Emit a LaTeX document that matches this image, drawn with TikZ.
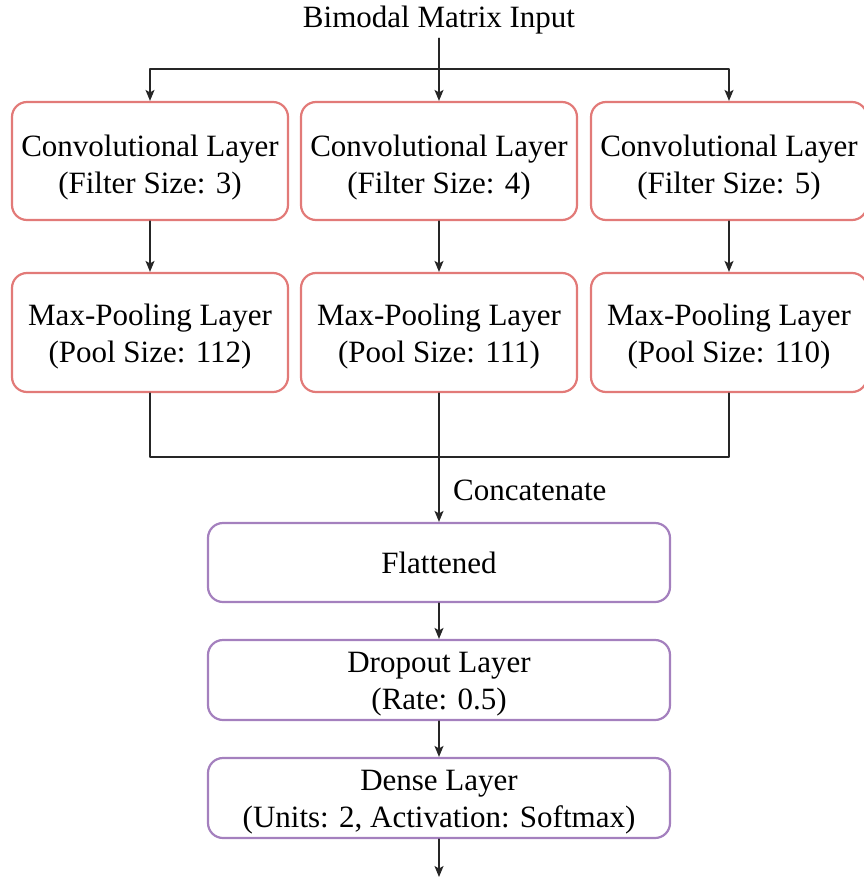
\documentclass[tikz,border=0pt]{standalone}
\usepackage{fontspec}
\setmainfont{Liberation Serif}
\usetikzlibrary{arrows.meta}
\definecolor{convred}{RGB}{226,122,120}
\definecolor{densepurple}{RGB}{164,128,190}
\newcommand{\toppad}[1]{\rule{0pt}{#1}}
\begin{document}
\begin{tikzpicture}[line cap=round,line join=round,>={Stealth[length=11pt,width=9pt,inset=2.5pt]},x=1pt,y=-1pt,
  every node/.style={font=\fontsize{31}{37}\selectfont},
  redbox/.style={draw=convred,line width=2.2pt,rounded corners=15pt,align=center,inner sep=0pt,minimum width=276pt,minimum height=118pt},
  purplebox/.style={draw=densepurple,line width=2.2pt,rounded corners=15pt,align=center,inner sep=0pt,minimum width=462pt,minimum height=79pt},
  link/.style={line width=1.4pt,draw=black!85}]
\useasboundingbox (0,0) rectangle (864,881);
% input and the three branches
\node[inner sep=4pt] (input) at (439,20) {Bimodal Matrix Input};
\coordinate (split) at (439,69);
\node[redbox] (conva) at (150,161) {\toppad{35pt}Convolutional Layer\\(Filter Size: 3)};
\node[redbox] (convb) at (439,161) {\toppad{35pt}Convolutional Layer\\(Filter Size: 4)};
\node[redbox] (convc) at (729,161) {\toppad{35pt}Convolutional Layer\\(Filter Size: 5)};
\node[redbox,minimum height=119pt] (poola) at (150,332.5) {\toppad{29pt}Max-Pooling Layer\\(Pool Size: 112)};
\node[redbox,minimum height=119pt] (poolb) at (439,332.5) {\toppad{29pt}Max-Pooling Layer\\(Pool Size: 111)};
\node[redbox,minimum height=119pt] (poolc) at (729,332.5) {\toppad{29pt}Max-Pooling Layer\\(Pool Size: 110)};
\draw[link,->] (input) -- (convb);
\draw[link,->] (split) -| (conva);
\draw[link,->] (split) -| (convc);
\draw[link,->] (conva) -- (poola);
\draw[link,->] (convb) -- (poolb);
\draw[link,->] (convc) -- (poolc);
% merge
\coordinate (merge) at (439,457);
\draw[link] (poola) |- (merge) -| (poolc);
\node[anchor=west,inner sep=0pt] (concat) at (453,490) {Concatenate};
% dense part
\node[purplebox] (flat) at (439,562.5) {Flattened};
\node[purplebox,minimum height=80pt] (drop) at (439,680) {\toppad{29pt}Dropout Layer\\(Rate: 0.5)};
\node[purplebox,minimum height=80pt] (dense) at (439,798) {\toppad{29pt}Dense Layer\\(Units: 2, Activation: Softmax)};
\coordinate (output) at (439,877);
\draw[link,->] (poolb) -- (flat);
\draw[link,->] (flat) -- (drop);
\draw[link,->] (drop) -- (dense);
\draw[link,->] (dense) -- (output);
\end{tikzpicture}
\end{document}
